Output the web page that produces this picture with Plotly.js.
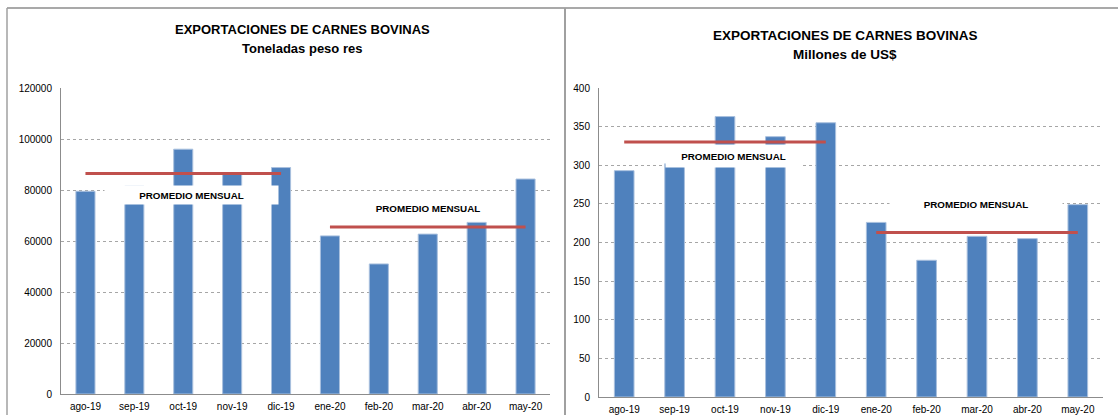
<!DOCTYPE html>
<html>
<head>
<meta charset="utf-8">
<script src="https://cdn.plot.ly/plotly-3.0.1.min.js"></script>
<style>
html,body{margin:0;padding:0;background:#fff;}
#chart{width:1118px;height:415px;}
</style>
</head>
<body>
<div id="chart"></div>
<script>
// ---- data ----
const months = ['ago-19','sep-19','oct-19','nov-19','dic-19','ene-20','feb-20','mar-20','abr-20','may-20'];
const toneladas = [79500, 81500, 96000, 86500, 88800, 62000, 51000, 62700, 67300, 84300];
const millonesUSD = [293, 302, 363, 337, 355, 226, 177, 208, 205, 249];
const tituloPrincipal = 'EXPORTACIONES DE CARNES BOVINAS';
const subtituloIzq = 'Toneladas peso res';
const subtituloDer = 'Millones de US$';
const etiquetaPromedio = 'PROMEDIO MENSUAL';
const periodo1 = months.slice(0,5);
const periodo2 = months.slice(5);

function mean(a){ return a.reduce((s,v)=>s+v,0)/a.length; }

const W = 1118, H = 415;
const px = x => x / W;
const py = y => (H - y) / H;

const BLUE = '#4F81BD';
const RED = '#C0504D';
const FONT = 'Liberation Sans, Arial, sans-serif';

const traces = [
  {type:'bar', x:months, y:toneladas, xaxis:'x', yaxis:'y',
   marker:{color:BLUE, line:{color:'#a9c0de', width:1}}, hoverinfo:'x+y'},
  {type:'scatter', mode:'lines', x:[periodo1[0], periodo1[4]],
   y:[mean(toneladas.slice(0,5)), mean(toneladas.slice(0,5))], xaxis:'x', yaxis:'y',
   line:{color:RED, width:3}},
  {type:'scatter', mode:'lines', x:[periodo2[0], periodo2[4]],
   y:[mean(toneladas.slice(5)), mean(toneladas.slice(5))], xaxis:'x', yaxis:'y',
   line:{color:RED, width:3}},
  {type:'bar', x:months, y:millonesUSD, xaxis:'x2', yaxis:'y2',
   marker:{color:BLUE, line:{color:'#a9c0de', width:1}}, hoverinfo:'x+y'},
  {type:'scatter', mode:'lines', x:[periodo1[0], periodo1[4]],
   y:[mean(millonesUSD.slice(0,5)), mean(millonesUSD.slice(0,5))], xaxis:'x2', yaxis:'y2',
   line:{color:RED, width:3}},
  {type:'scatter', mode:'lines', x:[periodo2[0], periodo2[4]],
   y:[mean(millonesUSD.slice(5)), mean(millonesUSD.slice(5))], xaxis:'x2', yaxis:'y2',
   line:{color:RED, width:3}}
];

const xCommon = {type:'category', showgrid:false, showline:true, linecolor:'#8c8c8c', linewidth:1,
  ticks:'', ticklabelstandoff:3, tickfont:{family:FONT, size:10, color:'#000'}, zeroline:false, fixedrange:true};
const yCommon = {showgrid:true, gridcolor:'#a6a6a6', griddash:'dot', gridwidth:1,
  showline:true, linecolor:'#8c8c8c', linewidth:1, ticks:'', ticklabelstandoff:6,
  tickfont:{family:FONT, size:10, color:'#000'}, zeroline:false, tickformat:'d', fixedrange:true};

const annBox = (x, y, w, h, bg) => ({xref:'paper', yref:'paper', x:px(x), y:py(y),
  xanchor:'center', yanchor:'middle', text:'<b>'+etiquetaPromedio+'</b>', showarrow:false,
  width:w, height:h, bgcolor:bg, borderpad:0,
  font:{family:FONT, size:9.8, color:'#000'}});

const layout = {
  width:W, height:H, margin:{l:0,r:0,t:0,b:0},
  paper_bgcolor:'#fff', plot_bgcolor:'rgba(0,0,0,0)',
  showlegend:false, bargap:0.61,
  xaxis:Object.assign({}, xCommon, {domain:[px(61), px(550)], anchor:'y'}),
  yaxis:Object.assign({}, yCommon, {domain:[21/H, 327/H], range:[0,120000], dtick:20000, anchor:'x'}),
  xaxis2:Object.assign({}, xCommon, {domain:[px(599), px(1103)], anchor:'y2'}),
  yaxis2:Object.assign({}, yCommon, {domain:[18/H, 327/H], range:[0,400], dtick:50, anchor:'x2'}),
  shapes:[
    {type:'line', xref:'paper', yref:'paper', x0:px(7), x1:1, y0:py(8), y1:py(8), line:{color:'#8c8c8c', width:1.5}},
    {type:'line', xref:'paper', yref:'paper', x0:px(7), x1:px(7), y0:py(8), y1:0, line:{color:'#a0a0a0', width:1.5}},
    {type:'line', xref:'paper', yref:'paper', x0:px(565), x1:px(565), y0:py(8), y1:0, line:{color:'#a0a0a0', width:2}}
  ],
  annotations:[
    {xref:'paper', yref:'paper', x:px(302), y:py(29), xanchor:'center', yanchor:'middle', showarrow:false,
     text:'<b>'+tituloPrincipal+'</b>', font:{family:FONT, size:13, color:'#000'}},
    {xref:'paper', yref:'paper', x:px(302), y:py(49), xanchor:'center', yanchor:'middle', showarrow:false,
     text:'<b>'+subtituloIzq+'</b>', font:{family:FONT, size:13, color:'#000'}},
    {xref:'paper', yref:'paper', x:px(845), y:py(35), xanchor:'center', yanchor:'middle', showarrow:false,
     text:'<b>'+tituloPrincipal+'</b>', font:{family:FONT, size:13.5, color:'#000'}},
    {xref:'paper', yref:'paper', x:px(845), y:py(55), xanchor:'center', yanchor:'middle', showarrow:false,
     text:'<b>'+subtituloDer+'</b>', font:{family:FONT, size:13.5, color:'#000'}},
    annBox(191.5, 195, 173, 18, '#fff'),
    annBox(428, 208, 120, 16, 'rgba(0,0,0,0)'),
    annBox(733.5, 156, 135, 22, '#fff'),
    annBox(976, 204, 172, 18, '#fff')
  ]
};

Plotly.newPlot('chart', traces, layout, {displayModeBar:false, staticPlot:true});
</script>
</body>
</html>
